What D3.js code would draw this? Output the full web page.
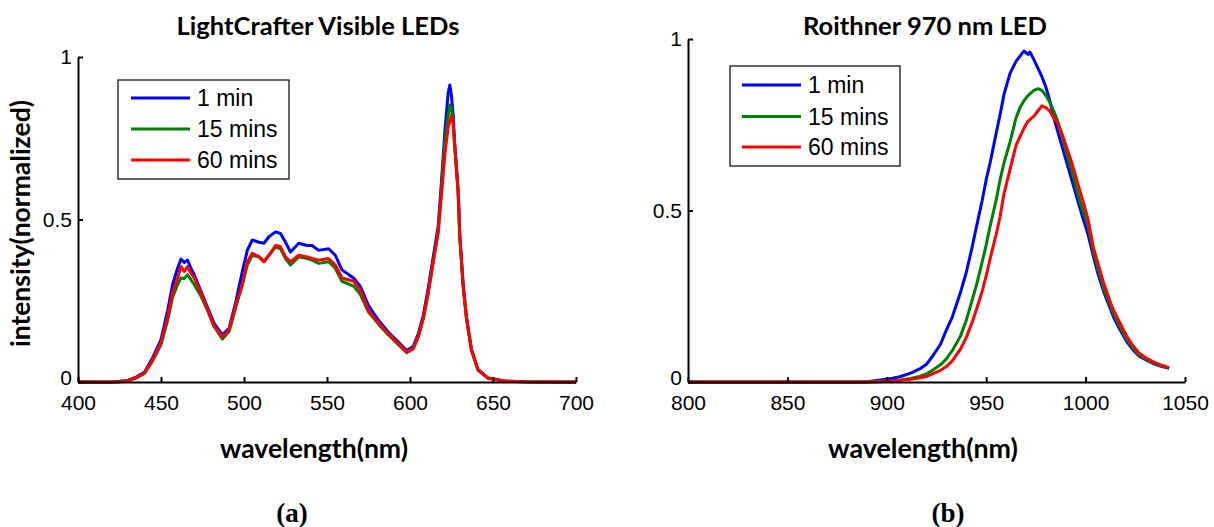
<!DOCTYPE html>
<html><head><meta charset="utf-8">
<script src="https://cdn.jsdelivr.net/npm/d3@7"></script>
<style>body{margin:0;background:#fff}</style>
</head><body>
<svg id="chart" width="1214" height="527"></svg>
<script>
// ---------- data: panel (a) LightCrafter visible LEDs ----------
const leftWavelengths = [400,410,420,425,430,435,440,445,450,454,457,460,462,464,466,468,470,474,478,482,487,491,495,499,502,505,509,512,515,519,522,525,528,533,538,541,545,551,555,559,566,570,575,581,587,593,598,602,605,608,611,614,617,619,621,623,624,625,626,627,629,630,632,634,637,641,647,657,670,700];
const left1min = [0,0,0,0.002,0.005,0.015,0.03,0.075,0.13,
  0.22,0.30,0.35,0.378,0.368,0.375,0.35,0.33,
  0.28,0.23,0.18,0.145,0.165,0.245,0.34,
  0.405,0.437,0.43,0.427,0.447,0.462,0.457,0.43,0.40,
  0.427,0.42,0.42,0.405,0.41,0.39,0.345,
  0.32,0.295,0.235,0.19,0.153,0.123,0.097,
  0.11,0.148,0.205,0.29,0.385,0.48,0.62,0.77,0.89,0.914,0.88,0.82,0.73,0.59,0.45,0.30,0.20,0.10,0.038,0.012,0.003,0.001,0];
const left15min = [0,0,0,0.001,0.004,0.012,0.026,0.065,0.115,
  0.19,0.26,0.30,0.32,0.318,0.33,0.315,0.30,
  0.265,0.22,0.17,0.132,0.155,0.23,0.30,
  0.36,0.39,0.385,0.37,0.39,0.415,0.41,0.38,0.36,
  0.385,0.38,0.375,0.365,0.37,0.35,0.31,
  0.295,0.27,0.215,0.178,0.145,0.115,0.09,
  0.102,0.14,0.195,0.275,0.37,0.465,0.60,0.74,0.82,0.852,0.845,0.79,0.72,0.58,0.445,0.295,0.195,0.097,0.036,0.011,0.003,0.001,0];
const left60min = [0,0,0,0.001,0.004,0.013,0.027,0.068,0.12,
  0.20,0.275,0.32,0.355,0.34,0.355,0.335,0.32,
  0.275,0.225,0.172,0.138,0.16,0.235,0.30,
  0.37,0.396,0.386,0.37,0.39,0.42,0.416,0.385,0.37,
  0.39,0.385,0.38,0.375,0.38,0.36,0.32,
  0.31,0.283,0.22,0.182,0.148,0.118,0.092,
  0.104,0.14,0.195,0.275,0.37,0.46,0.58,0.70,0.785,0.80,0.82,0.80,0.72,0.59,0.45,0.30,0.20,0.10,0.038,0.012,0.003,0.001,0];

// ---------- data: panel (b) Roithner 970 nm LED ----------
const rightWavelengths = [800,850,880,890,897,903,907,912,917,920,923,927,930,933,937,940,943,945,948,950,952,955,957,959,962,965,967,969,971,972,974,976,978,980,982,984,986,988,991,993,996,998,1001,1004,1006,1009,1012,1014,1017,1021,1024,1027,1031,1034,1038,1042];
const right1min = [0,0,0,0.001,0.006,0.011,0.016,0.026,0.04,0.052,
  0.075,0.11,0.152,0.19,0.26,0.32,0.395,0.45,0.53,0.59,
  0.64,0.725,0.78,0.84,0.90,0.935,0.95,0.965,0.955,0.962,
  0.94,0.915,0.89,0.86,0.82,0.77,0.73,0.69,0.63,0.59,
  0.53,0.49,0.435,0.365,0.32,0.265,0.22,0.19,0.155,0.115,
  0.093,0.075,0.062,0.054,0.046,0.04];
const right15min = [0,0,0,0,0.002,0.004,0.006,0.01,0.017,0.024,
  0.034,0.05,0.068,0.092,0.133,0.18,0.24,0.28,0.35,0.40,
  0.455,0.53,0.59,0.64,0.70,0.77,0.80,0.82,0.835,0.84,
  0.85,0.855,0.85,0.835,0.815,0.79,0.76,0.72,0.655,0.615,
  0.55,0.51,0.46,0.378,0.335,0.275,0.23,0.20,0.163,0.122,
  0.098,0.079,0.064,0.056,0.047,0.041];
const right60min = [0,0,0,0,0.001,0.003,0.005,0.008,0.012,0.016,
  0.024,0.034,0.045,0.062,0.095,0.13,0.175,0.21,0.265,0.31,
  0.36,0.43,0.483,0.55,0.62,0.69,0.715,0.74,0.76,0.765,
  0.775,0.79,0.805,0.80,0.79,0.77,0.755,0.725,0.675,0.64,
  0.58,0.54,0.48,0.39,0.35,0.29,0.24,0.21,0.175,0.13,
  0.104,0.084,0.068,0.059,0.049,0.042];

const seriesNames = ["1 min","15 mins","60 mins"];
const seriesColors = ["#0000ff","#008000","#ff0000"];
const leftXTicks = [400,450,500,550,600,650,700];
const rightXTicks = [800,850,900,950,1000,1050];
const yTicks = [0,0.5,1];
const yTickLabels = ["0","0.5","1"];

const svg = d3.select('#chart');
svg.append('rect').attr('width',1214).attr('height',527).attr('fill','#fff');

const tickFont = "'Liberation Sans', Arial, sans-serif";
const boldFont = "Lato, 'Open Sans', sans-serif";

function fitText(sel, target){
  const w = sel.node().getComputedTextLength();
  const fs = parseFloat(sel.attr('font-size'));
  sel.attr('font-size', (fs*target/w).toFixed(2));
}

function panel(cfg){
  const x = d3.scaleLinear().domain(cfg.xDomain).range(cfg.xRange);
  const y = d3.scaleLinear().domain([0,1]).range(cfg.yRange);
  const g = svg.append('g');

  const line = d3.line().x(d=>x(d[0])).y(d=>y(d[1]));
  cfg.series.forEach((vals,i)=>{
    g.append('path')
      .datum(cfg.wl.map((w,j)=>[w,vals[j]]))
      .attr('d',line).attr('fill','none')
      .attr('stroke',seriesColors[i]).attr('stroke-width',3)
      .attr('stroke-linejoin','round');
  });

  const xa = g.append('g').attr('transform',`translate(0,${cfg.yRange[0]})`)
    .call(d3.axisBottom(x).tickValues(cfg.xTicks).tickFormat(d3.format('d'))
      .tickSizeInner(-5).tickSizeOuter(0).tickPadding(13));
  const ya = g.append('g').attr('transform',`translate(${cfg.xRange[0]},0)`)
    .call(d3.axisLeft(y).tickValues(yTicks).tickFormat((d,i)=>yTickLabels[i])
      .tickSizeInner(-5).tickSizeOuter(0).tickPadding(6));
  [xa,ya].forEach(a=>{
    a.attr('font-family',tickFont).attr('font-size',21);
    a.selectAll('text').attr('fill','#000');
    a.select('.domain').attr('stroke','#000').attr('stroke-width',2);
    a.selectAll('.tick line').attr('stroke','#000').attr('stroke-width',2);
  });
  // lift the "0" label slightly so it does not collide with the first x label
  ya.selectAll('.tick text').filter(d=>d===0).attr('dy','0.1em');

  // legend
  const L = cfg.legend;
  g.append('rect').attr('x',L.x0).attr('y',L.y0).attr('width',L.x1-L.x0).attr('height',L.y1-L.y0)
    .attr('fill','#fff').attr('stroke','#000').attr('stroke-width',1.2);
  seriesNames.forEach((n,i)=>{
    const ry = L.rows[i];
    g.append('line').attr('x1',L.lx0).attr('x2',L.lx1).attr('y1',ry).attr('y2',ry)
      .attr('stroke',seriesColors[i]).attr('stroke-width',3);
    g.append('text').attr('x',L.tx).attr('y',ry).attr('dy','0.36em')
      .attr('font-family',tickFont).attr('font-size',23).attr('fill','#000').text(n);
  });

  // title
  const t = g.append('text').attr('x',cfg.title.x).attr('y',cfg.title.y).attr('text-anchor','middle')
    .attr('font-family',boldFont).attr('font-weight','bold').attr('font-size',22).text(cfg.title.text);
  fitText(t,cfg.title.w);
  const xl = g.append('text').attr('x',cfg.xlabel.x).attr('y',cfg.xlabel.y).attr('text-anchor','middle')
    .attr('font-family',boldFont).attr('font-weight','bold').attr('font-size',22).text('wavelength(nm)');
  fitText(xl,cfg.xlabel.w);
  if(cfg.ylabel){
    const yl = g.append('text').attr('transform',`translate(${cfg.ylabel.x},${cfg.ylabel.y}) rotate(-90)`)
      .attr('text-anchor','middle').attr('font-family',boldFont).attr('font-weight','bold')
      .attr('font-size',22).text('intensity(normalized)');
    fitText(yl,cfg.ylabel.w);
  }
  g.append('text').attr('x',cfg.sub.x).attr('y',cfg.sub.y).attr('text-anchor','middle')
    .attr('font-family',"'Liberation Serif','Times New Roman',serif").attr('font-weight','bold')
    .attr('font-size',27).text(cfg.sub.text);
}

panel({
  xDomain:[400,700], xRange:[78,576], yRange:[382,57],
  wl:leftWavelengths, series:[left1min,left15min,left60min], xTicks:leftXTicks,
  legend:{x0:118,x1:289,y0:80,y1:179,lx0:131,lx1:190,tx:197,rows:[98,129,160]},
  title:{text:'LightCrafter Visible LEDs',x:318,y:35,w:283},
  xlabel:{x:314,y:458,w:188},
  ylabel:{x:30,y:223.5,w:247},
  sub:{text:'(a)',x:292,y:522}
});
panel({
  xDomain:[800,1050], xRange:[688,1185], yRange:[382,39],
  wl:rightWavelengths, series:[right1min,right15min,right60min], xTicks:rightXTicks,
  legend:{x0:730,x1:900,y0:66,y1:166,lx0:742,lx1:801,tx:808,rows:[85,116.5,147]},
  title:{text:'Roithner 970 nm LED',x:925,y:34.5,w:244},
  xlabel:{x:923,y:458,w:190},
  ylabel:null,
  sub:{text:'(b)',x:948,y:522}
});
</script>
</body></html>
